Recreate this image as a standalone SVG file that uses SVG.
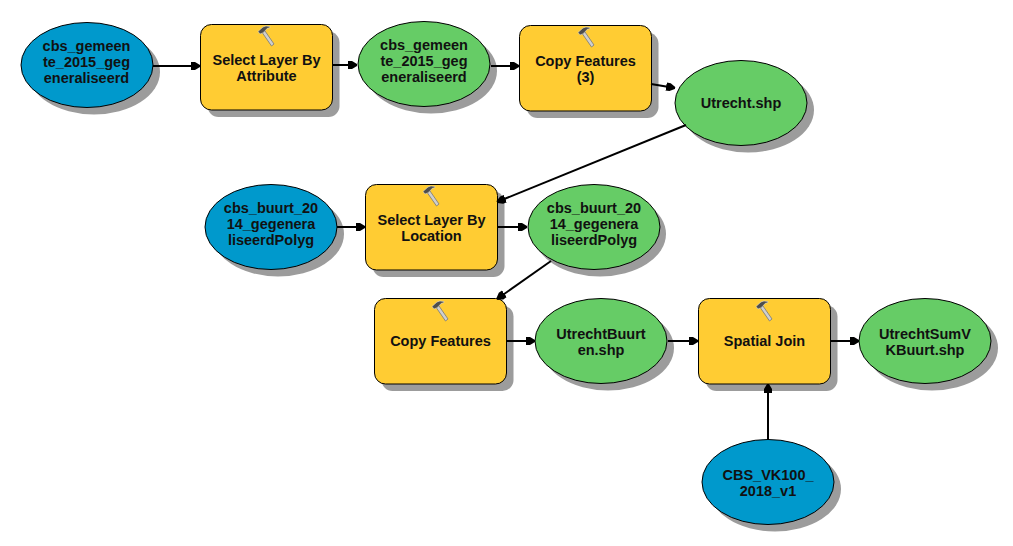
<svg xmlns="http://www.w3.org/2000/svg" xmlns:xlink="http://www.w3.org/1999/xlink" width="1013" height="546" viewBox="0 0 1013 546">
<style>
.t{font-family:"Liberation Sans",Arial,sans-serif;font-size:14.5px;font-weight:700;fill:#111;text-anchor:middle}
.s{fill:#9c9c9c}
.b{stroke:#000;stroke-width:1}
.tool{fill:#ffcc33}
.in{fill:#0099cc}
.out{fill:#66cc66}
.c{stroke:#000;stroke-width:2;fill:none;marker-end:url(#a)}
</style>
<defs>
<marker id="a" markerUnits="userSpaceOnUse" markerWidth="10" markerHeight="10" refX="9" refY="5" orient="auto"><path d="M0 1L4 1 9 4 9 6 4 9 0 9Z" fill="#000"/></marker>
<g id="h"><path d="M-1 -5L8 8 5.500 10 -3.500 -3Z" fill="#cfcfcf" stroke="#777" stroke-width=".8"/><path d="M-8 -4.500L-3 -9 0 -10 4 -9.500 4 -8.500 1 -7.500 -1 -5 -3.500 -3 -6 -2Z" fill="#4d4d4d" stroke="#e8e8e8" stroke-width=".5"/></g>
</defs>
<rect width="1013" height="546" fill="#fff"/>
<g id="n1"><ellipse class="s" cx="94" cy="72" rx="66" ry="42.500"/><ellipse class="in b" cx="87" cy="65" rx="66" ry="42.500"/><text class="t" x="86.500" y="51">cbs_gemeen</text><text class="t" x="86.500" y="67">te_2015_geg</text><text class="t" x="86.500" y="83">eneraliseerd</text></g>
<g id="n2"><rect class="s" x="207.500" y="31.500" width="132" height="85.500" rx="11"/><rect class="tool b" x="200.500" y="24.500" width="132" height="85.500" rx="11"/><use xlink:href="#h" href="#h" x="266" y="36"/><text class="t" x="266.500" y="65">Select Layer By</text><text class="t" x="266.500" y="81">Attribute</text></g>
<g id="n3"><ellipse class="s" cx="431" cy="71" rx="66" ry="42.500"/><ellipse class="out b" cx="424" cy="64" rx="66" ry="42.500"/><text class="t" x="424" y="50">cbs_gemeen</text><text class="t" x="424" y="66">te_2015_geg</text><text class="t" x="424" y="82">eneraliseerd</text></g>
<g id="n4"><rect class="s" x="526.500" y="32.500" width="132" height="85.500" rx="11"/><rect class="tool b" x="519.500" y="25.500" width="132" height="85.500" rx="11"/><use xlink:href="#h" href="#h" x="586" y="37"/><text class="t" x="585.500" y="66">Copy Features</text><text class="t" x="585.500" y="82">(3)</text></g>
<g id="n5"><ellipse class="s" cx="748" cy="110" rx="66" ry="42.500"/><ellipse class="out b" cx="741" cy="103" rx="66" ry="42.500"/><text class="t" x="741" y="108">Utrecht.shp</text></g>
<g id="n6"><ellipse class="s" cx="278" cy="234" rx="66" ry="42.500"/><ellipse class="in b" cx="271" cy="227" rx="66" ry="42.500"/><text class="t" x="271" y="213">cbs_buurt_20</text><text class="t" x="271" y="229">14_gegenera</text><text class="t" x="271" y="245">liseerdPolyg</text></g>
<g id="n7"><rect class="s" x="372.500" y="191.500" width="132" height="85.500" rx="11"/><rect class="tool b" x="365.500" y="184.500" width="132" height="85.500" rx="11"/><use xlink:href="#h" href="#h" x="431" y="196"/><text class="t" x="431.500" y="225">Select Layer By</text><text class="t" x="431.500" y="241">Location</text></g>
<g id="n8"><ellipse class="s" cx="600" cy="234" rx="66" ry="42.500"/><ellipse class="out b" cx="594" cy="227" rx="66" ry="42.500"/><text class="t" x="594" y="213">cbs_buurt_20</text><text class="t" x="594" y="229">14_gegenera</text><text class="t" x="594" y="245">liseerdPolyg</text></g>
<g id="n9"><rect class="s" x="381.500" y="305.500" width="132" height="85.500" rx="11"/><rect class="tool b" x="374.500" y="298.500" width="132" height="85.500" rx="11"/><use xlink:href="#h" href="#h" x="440" y="311"/><text class="t" x="440.500" y="346">Copy Features</text></g>
<g id="n10"><ellipse class="s" cx="608" cy="348" rx="66" ry="42.500"/><ellipse class="out b" cx="601" cy="341" rx="66" ry="42.500"/><text class="t" x="601" y="339">UtrechtBuurt</text><text class="t" x="601" y="355">en.shp</text></g>
<g id="n11"><rect class="s" x="705.500" y="305.500" width="132" height="85.500" rx="11"/><rect class="tool b" x="698.500" y="298.500" width="132" height="85.500" rx="11"/><use xlink:href="#h" href="#h" x="764" y="311"/><text class="t" x="764.500" y="346">Spatial Join</text></g>
<g id="n12"><ellipse class="s" cx="932" cy="348" rx="66" ry="42.500"/><ellipse class="out b" cx="925" cy="341" rx="66" ry="42.500"/><text class="t" x="925" y="339">UtrechtSumV</text><text class="t" x="925" y="355">KBuurt.shp</text></g>
<g id="n13"><ellipse class="s" cx="775" cy="489" rx="66" ry="42.500"/><ellipse class="in b" cx="768" cy="482" rx="66" ry="42.500"/><text class="t" x="768" y="480">CBS_VK100_</text><text class="t" x="768" y="496">2018_v1</text></g>
<g id="connectors">
<path class="c" d="M153 66H200"/>
<path class="c" d="M332 65H357"/>
<path class="c" d="M491 66H519"/>
<path class="c" d="M651 84L675 88"/>
<path class="c" d="M686 125L497 202"/>
<path class="c" d="M337 227H365"/>
<path class="c" d="M497 227H527"/>
<path class="c" d="M551 261L497 299"/>
<path class="c" d="M506 341H535"/>
<path class="c" d="M668 341H698"/>
<path class="c" d="M830 341H859"/>
<path class="c" d="M768 440V384"/>
</g>
</svg>
